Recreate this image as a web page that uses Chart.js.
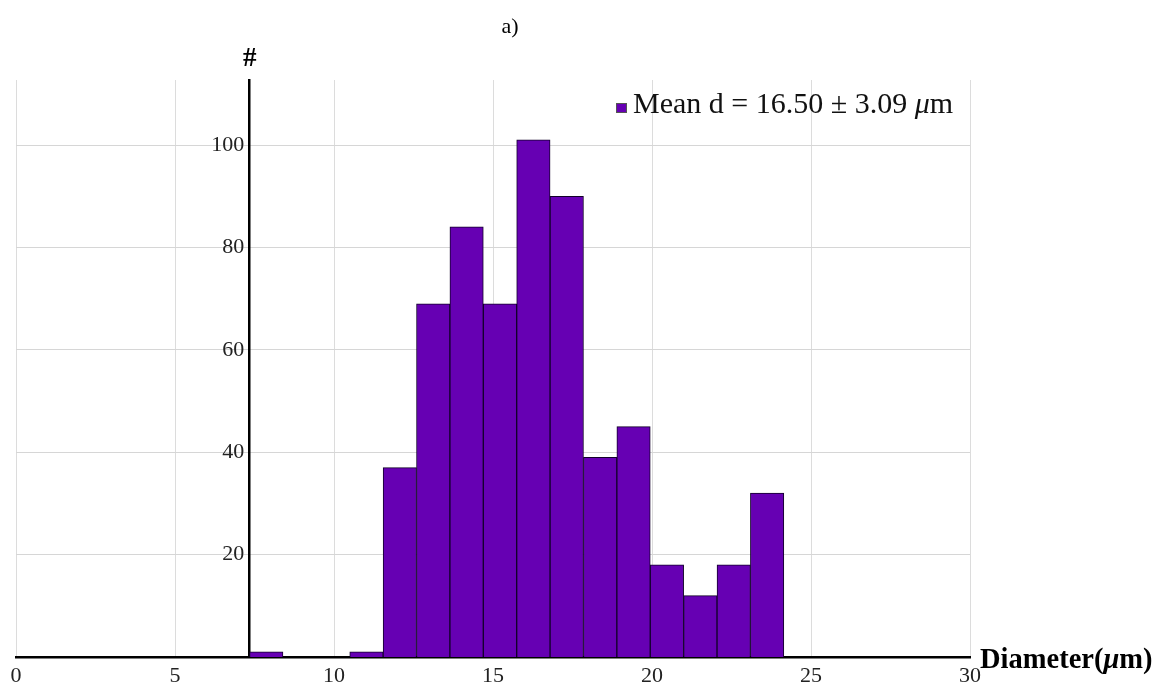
<!DOCTYPE html>
<html>
<head>
<meta charset="utf-8">
<script src="https://cdn.jsdelivr.net/npm/chart.js@4.4.1/dist/chart.umd.min.js"></script>
<style>
  body { margin: 0; background: #fff; }
</style>
</head>
<body>
<canvas id="histChart" width="1163" height="684"></canvas>
<script>
// bin centres (um) and counts
const binCenters = [7.87, 8.92, 9.97, 11.02, 12.07, 13.12, 14.17, 15.22,
                    16.27, 17.32, 18.37, 19.42, 20.47, 21.52, 22.57, 23.62];
const counts = [1, 0, 0, 1, 37, 69, 84, 69, 101, 90, 39, 45, 18, 12, 18, 32];
const xTicks = [0, 5, 10, 15, 20, 25, 30];
const yTicks = [20, 40, 60, 80, 100];
const legendLabel = ['Mean d = 16.50 \u00b1 3.09 ', '\u03bc', 'm'];

const serif = "'Liberation Serif', 'Times New Roman', serif";

// draw a run of text pieces with their own font styles
function drawParts(ctx, parts, x, y, size) {
    parts.forEach(p => {
        ctx.font = p[1] + ' ' + size + 'px ' + serif;
        ctx.fillText(p[0], x, y);
        x += ctx.measureText(p[0]).width;
    });
}

// extra text: panel title, y axis symbol, x axis name and the legend
const textPlugin = {
    id: 'extraText',
    afterDraw(chart) {
        const ctx = chart.ctx;
        const xs = chart.scales.x;
        const ys = chart.scales.y;
        const ds = chart.data.datasets[0];
        ctx.save();
        ctx.fillStyle = '#000';
        ctx.textBaseline = 'alphabetic';

        ctx.font = '22px ' + serif;
        ctx.textAlign = 'center';
        ctx.fillText('a)', 510, 33);

        ctx.font = 'bold 27px ' + serif;
        const axisX = xs.getPixelForValue(7.35);
        ctx.fillText('#', axisX, 66);

        ctx.textAlign = 'left';
        drawParts(ctx, [['Diameter(', 'bold'], ['\u03bc', 'bold italic'], ['m)', 'bold']],
                  xs.right + 10, ys.bottom + 11, 28.5);

        // legend
        const lx = 616, ly = 113;
        ctx.fillStyle = ds.backgroundColor;
        ctx.fillRect(lx, ly - 10, 11, 10);
        ctx.strokeStyle = '#555';
        ctx.lineWidth = 1;
        ctx.strokeRect(lx + 0.5, ly - 9.5, 10, 9);
        ctx.fillStyle = '#111';
        drawParts(ctx, [[legendLabel[0], ''], [legendLabel[1], 'italic'], [legendLabel[2], '']],
                  lx + 17, ly, 30);
        ctx.restore();
    }
};

const ctx = document.getElementById('histChart').getContext('2d');
const histChart = new Chart(ctx, {
    type: 'bar',
    data: {
        datasets: [{
            label: legendLabel.join(''),
            data: binCenters.map((c, i) => ({ x: c, y: counts[i] })),
            backgroundColor: '#6600b3',
            borderColor: '#12002a',
            borderWidth: 1,
            barPercentage: 1,
            categoryPercentage: 1
        }]
    },
    options: {
        responsive: false,
        animation: false,
        layout: {
            padding: { top: 80, right: 193, left: 16, bottom: -11 }
        },
        plugins: {
            title: { display: false },
            tooltip: { enabled: false },
            legend: { display: false }
        },
        scales: {
            x: {
                type: 'linear',
                min: 0,
                max: 30,
                offset: false,
                afterBuildTicks: s => { s.ticks = xTicks.map(v => ({ value: v })); },
                ticks: {
                    color: '#222',
                    font: { family: serif, size: 22, lineHeight: 1 },
                    padding: 8,
                    maxRotation: 0
                },
                grid: { color: '#dcdcdc', lineWidth: 1, drawTicks: false, offset: false },
                border: { color: '#000', width: 2.5 }
            },
            y: {
                position: { x: 7.35 },
                min: 0,
                max: 112.7,
                afterBuildTicks: s => { s.ticks = yTicks.map(v => ({ value: v })); },
                ticks: {
                    color: '#222',
                    font: { family: serif, size: 22 },
                    callback: v => v + ' '
                },
                grid: { color: '#d6d6d6', lineWidth: 1, drawTicks: false },
                border: { color: '#000', width: 2.5 }
            }
        }
    },
    plugins: [textPlugin]
});
</script>
</body>
</html>
